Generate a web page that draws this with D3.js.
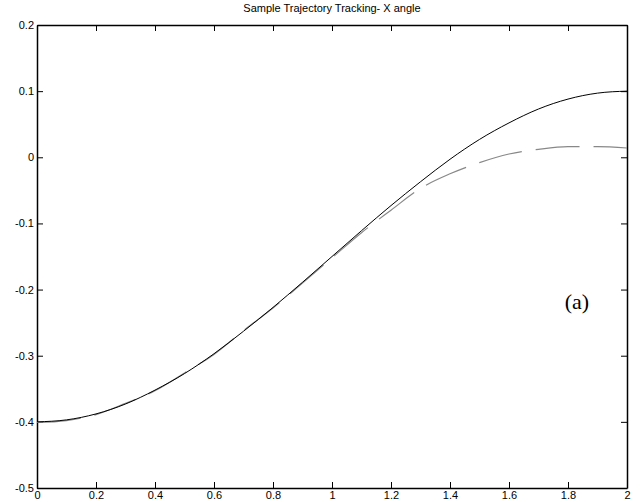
<!DOCTYPE html>
<html>
<head>
<meta charset="utf-8">
<script src="https://cdn.jsdelivr.net/npm/d3@7"></script>
<style>
  body { margin: 0; background: #fff; }
  text { font-family: "Liberation Sans", Arial, sans-serif; }
</style>
</head>
<body>
<div id="chart"></div>
<script>
// time (s)
const tValues = [0, 0.1, 0.2, 0.3, 0.4, 0.5, 0.6, 0.7, 0.8, 0.9, 1.0,
                 1.1, 1.2, 1.3, 1.4, 1.5, 1.6, 1.7, 1.8, 1.9, 2.0];
// desired trajectory (solid)
const desired = [-0.400, -0.397, -0.388, -0.373, -0.352, -0.327, -0.297, -0.263, -0.227, -0.189, -0.150,
                 -0.111, -0.073, -0.037, -0.003, 0.027, 0.052, 0.073, 0.088, 0.097, 0.100];
// actual trajectory (dashed)
const actual = [-0.401, -0.398, -0.389, -0.372, -0.353, -0.326, -0.298, -0.262, -0.228, -0.190, -0.152,
                -0.114, -0.080, -0.047, -0.025, -0.008, 0.005, 0.012, 0.016, 0.016, 0.014];
const xTicks = [0, 0.2, 0.4, 0.6, 0.8, 1, 1.2, 1.4, 1.6, 1.8, 2];
const yTicks = [-0.5, -0.4, -0.3, -0.2, -0.1, 0, 0.1, 0.2];

const W = 643, H = 502;
const margin = { top: 25, right: 16, bottom: 14, left: 37 };
const width = W - margin.left - margin.right;
const height = H - margin.top - margin.bottom;

const svg = d3.select("#chart").append("svg")
  .attr("width", W)
  .attr("height", H)
  .append("g")
  .attr("transform", `translate(${margin.left},${margin.top})`);

const x = d3.scaleLinear().domain([0, 2]).range([0, width]);
const y = d3.scaleLinear().domain([-0.5, 0.2]).range([height, 0]);

// plain hyphen labels like the original (no unicode minus, no trailing zeros)
const fmt = d => String(+d.toFixed(1));

// axes, ticks pointing inward on all sides
svg.append("g")
  .attr("transform", `translate(0,${height})`)
  .call(d3.axisBottom(x).tickValues(xTicks).tickSizeInner(-6).tickSizeOuter(0).tickPadding(3).tickFormat(fmt));
svg.append("g")
  .call(d3.axisTop(x).tickValues(xTicks).tickSizeInner(-6).tickSizeOuter(0).tickFormat(""));
svg.append("g")
  .call(d3.axisLeft(y).tickValues(yTicks).tickSizeInner(-6).tickSizeOuter(0).tickPadding(3).tickFormat(fmt));
svg.append("g")
  .attr("transform", `translate(${width},0)`)
  .call(d3.axisRight(y).tickValues(yTicks).tickSizeInner(-6).tickSizeOuter(0).tickFormat(""));

svg.selectAll(".domain").attr("stroke", "#000").attr("stroke-width", 1.5);
svg.selectAll(".tick line").attr("stroke", "#000");
svg.selectAll(".tick text")
  .attr("fill", "#000")
  .style("font-size", "11px")
  .style("font-family", "'Liberation Sans', Arial, sans-serif");

const line = d3.line()
  .x((d, i) => x(tValues[i]))
  .y(d => y(d))
  .curve(d3.curveMonotoneX);

svg.append("path")
  .datum(actual)
  .attr("fill", "none")
  .attr("stroke", "#888")
  .attr("stroke-width", 1.2)
  .attr("stroke-dasharray", "44,14")
  .attr("d", line);

svg.append("path")
  .datum(desired)
  .attr("fill", "none")
  .attr("stroke", "#000")
  .attr("stroke-width", 1)
  .attr("d", line);

// title
svg.append("text")
  .attr("x", width / 2)
  .attr("y", -13)
  .attr("text-anchor", "middle")
  .style("font-size", "11px")
  .text("Sample Trajectory Tracking- X angle");

svg.append("text")
  .attr("x", x(1.83))
  .attr("y", y(-0.23))
  .attr("text-anchor", "middle")
  .style("font-family", "'Liberation Serif', 'Times New Roman', serif")
  .style("font-size", "22px")
  .text("(a)");
</script>
</body>
</html>
